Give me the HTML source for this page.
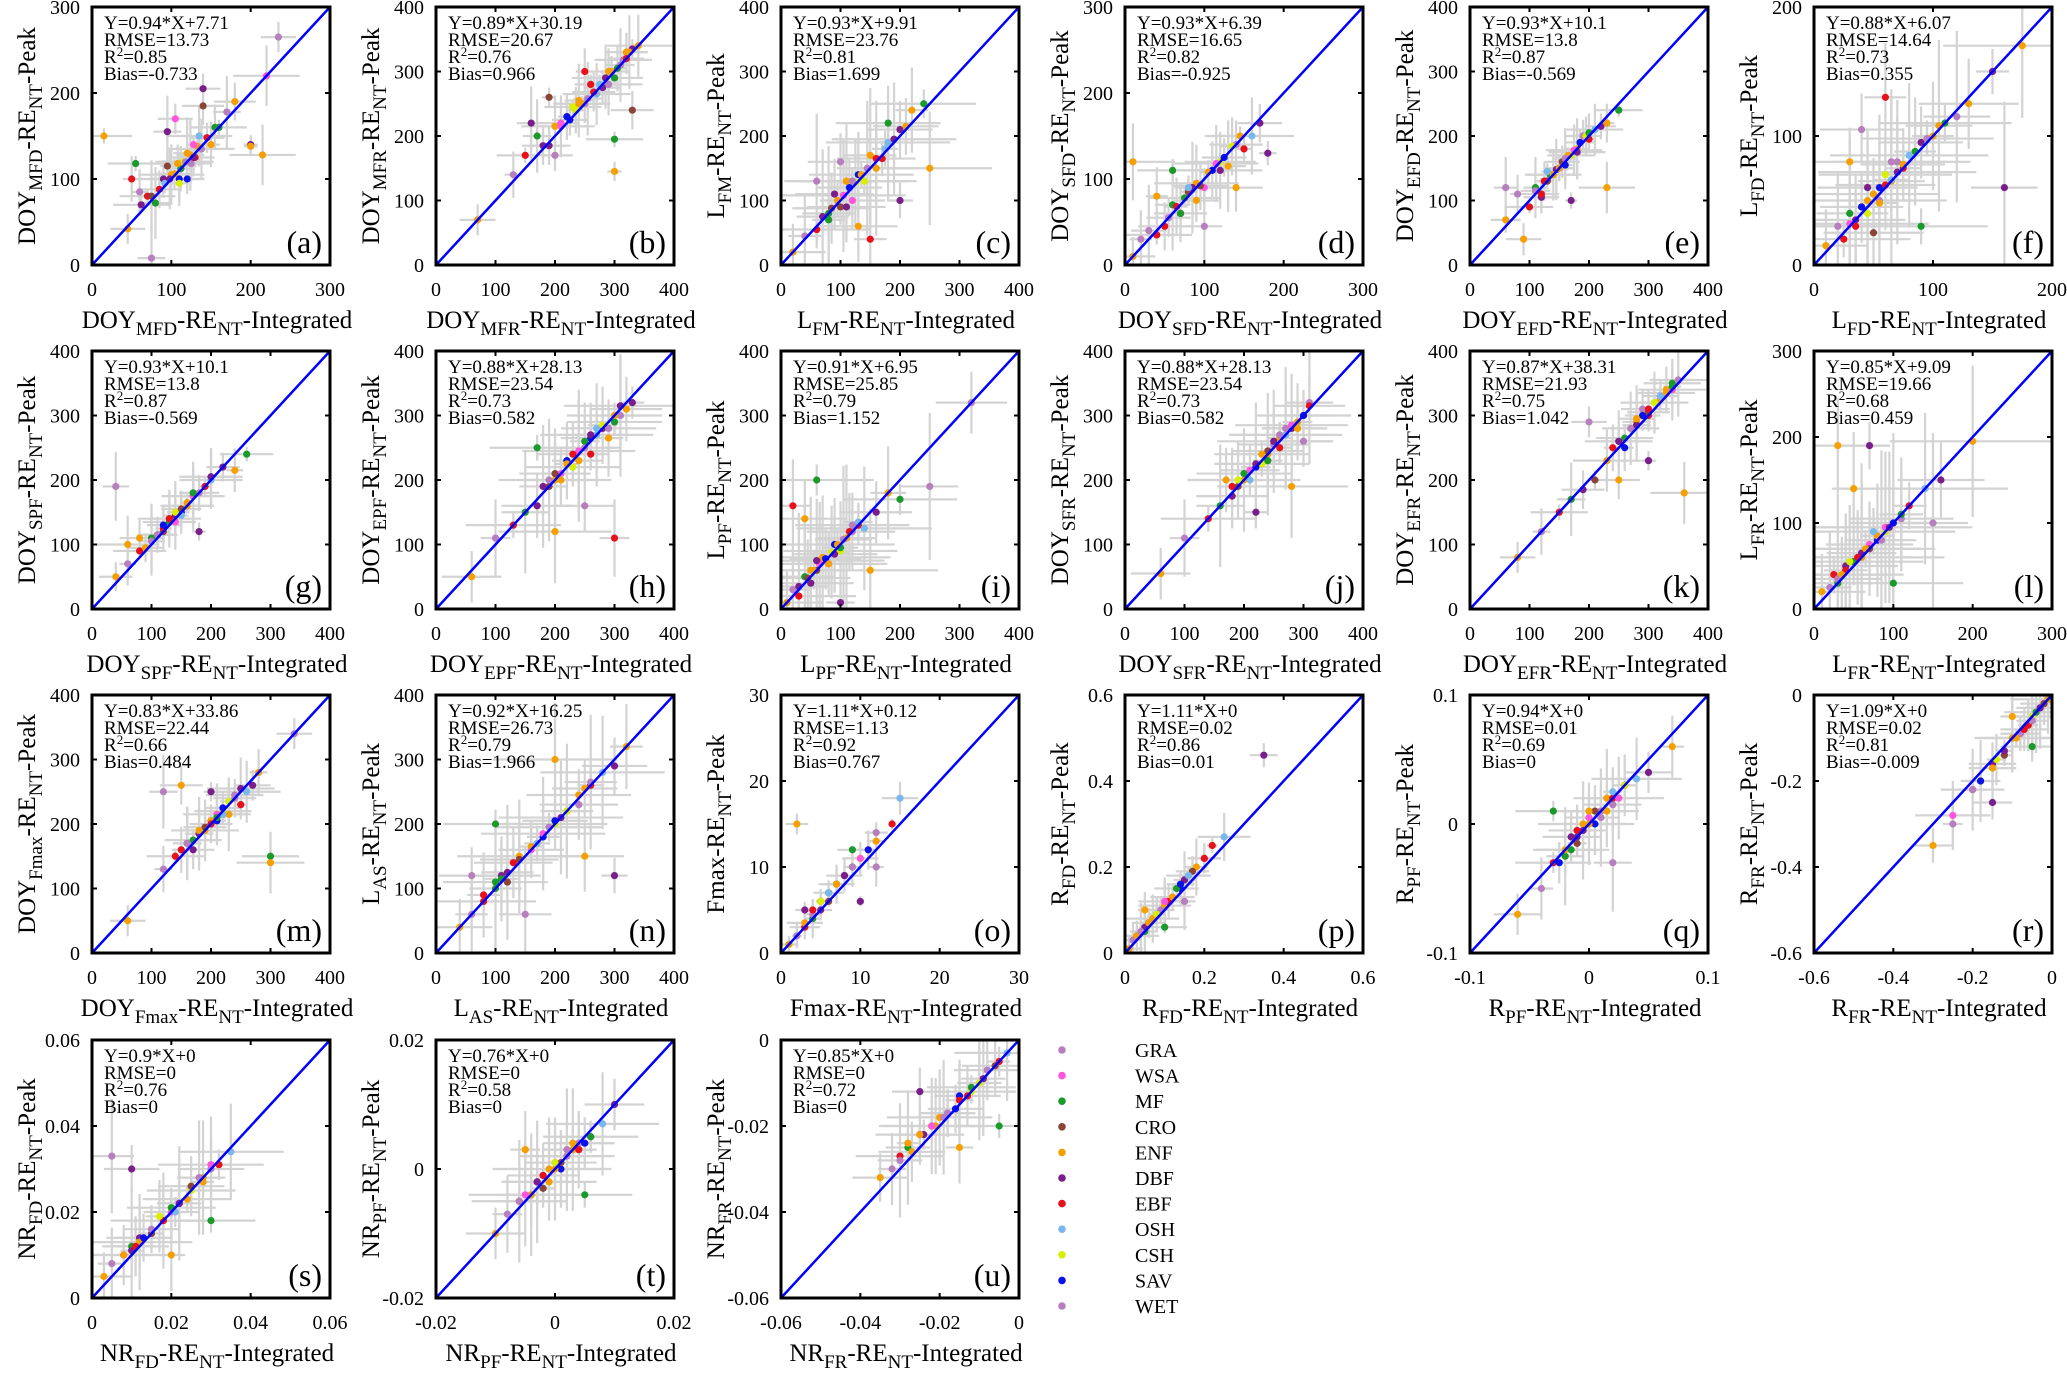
<!DOCTYPE html>
<html><head><meta charset="utf-8"><style>
html,body{margin:0;padding:0;background:#fff}
svg{display:block}
svg text{font-family:"Liberation Serif","Times New Roman",serif}
</style></head><body>
<svg id="fig" width="2067" height="1375" viewBox="0 0 2067 1375" xmlns="http://www.w3.org/2000/svg" font-family="Liberation Serif, serif"></svg>
<script>
const panelLetters=["a","b","c","d","e","f","g","h","i","j","k","l","m","n","o","p","q","r","s","t","u"];
const panelMin=[0,0,0,0,0,0, 0,0,0,0,0,0, 0,0,0,0,-0.1,-0.6, 0,-0.02,-0.06];
const panelMax=[300,400,400,300,400,200, 400,400,400,400,400,300, 400,400,30,0.6,0.1,0, 0.06,0.02,0];
const panelTicks=[[0,100,200,300],[0,100,200,300,400],[0,100,200,300,400],[0,100,200,300],[0,100,200,300,400],[0,100,200],
[0,100,200,300,400],[0,100,200,300,400],[0,100,200,300,400],[0,100,200,300,400],[0,100,200,300,400],[0,100,200,300],
[0,100,200,300,400],[0,100,200,300,400],[0,10,20,30],[0,0.2,0.4,0.6],[-0.1,0,0.1],[-0.6,-0.4,-0.2,0],
[0,0.02,0.04,0.06],[-0.02,0,0.02],[-0.06,-0.04,-0.02,0]];
const panelVar=[["DOY","MFD"],["DOY","MFR"],["L","FM"],["DOY","SFD"],["DOY","EFD"],["L","FD"],
["DOY","SPF"],["DOY","EPF"],["L","PF"],["DOY","SFR"],["DOY","EFR"],["L","FR"],
["DOY","Fmax"],["L","AS"],["Fmax",""],["R","FD"],["R","PF"],["R","FR"],["NR","FD"],["NR","PF"],["NR","FR"]];
const statEq=["0.94*X+7.71","0.89*X+30.19","0.93*X+9.91","0.93*X+6.39","0.93*X+10.1","0.88*X+6.07","0.93*X+10.1","0.88*X+28.13","0.91*X+6.95","0.88*X+28.13","0.87*X+38.31","0.85*X+9.09","0.83*X+33.86","0.92*X+16.25","1.11*X+0.12","1.11*X+0","0.94*X+0","1.09*X+0","0.9*X+0","0.76*X+0","0.85*X+0"];
const statRmse=["13.73","20.67","23.76","16.65","13.8","14.64","13.8","23.54","25.85","23.54","21.93","19.66","22.44","26.73","1.13","0.02","0.01","0.02","0","0","0"];
const statR2=["0.85","0.76","0.81","0.82","0.87","0.73","0.87","0.73","0.79","0.73","0.75","0.68","0.66","0.79","0.92","0.86","0.69","0.81","0.76","0.58","0.72"];
const statBias=["-0.733","0.966","1.699","-0.925","-0.569","0.355","-0.569","0.582","1.152","0.582","1.042","0.459","0.484","1.966","0.767","0.01","0","-0.009","0","0","0"];
const errSize=[22,30,55,28,25,35,28,50,60,50,30,55,30,55,1.2,0.035,0.02,0.05,0.007,0.005,0.007];
const ptsX=[
[45,60,70,80,90,95,100,105,110,115,120,125,130,135,140,150,160,170,180,200,215,235,50,55,95,140,200,220,120,110,15,75],
[70,130,150,170,180,190,200,210,220,230,240,250,260,270,280,290,300,310,320,330,340,200,250,300,160,330,300],
[20,40,60,80,90,100,110,120,130,140,150,160,170,180,200,220,240,60,130,200,250,100,150,180],
[10,20,40,60,70,80,90,100,110,120,130,140,150,160,170,40,60,100,140,180,10],
[60,80,100,110,120,130,140,150,160,170,180,190,200,210,220,230,250,60,90,170,230],
[10,20,25,30,35,40,45,50,55,60,65,70,75,80,90,100,110,120,130,150,175,40,60,90,160,50,30],
[40,60,80,100,110,120,130,140,150,160,170,180,190,200,220,240,260,40,80,180,60],
[60,100,130,150,170,190,200,210,220,230,240,250,260,270,280,290,300,310,320,330,200,250,300,170],
[10,20,30,40,50,60,70,80,90,100,110,120,130,140,160,180,200,250,40,100,150,320,20,60],
[60,100,140,160,180,190,200,210,220,230,240,250,260,270,280,290,300,310,170,220,280,300],
[80,120,150,170,190,210,230,250,260,270,280,290,300,310,320,330,340,350,250,300,360,200],
[10,20,25,30,40,50,60,70,80,90,100,110,120,140,160,50,100,150,30,70,200],
[60,120,140,160,170,180,190,200,210,220,230,240,250,260,270,280,300,120,150,200,300,340],
[40,60,80,100,110,120,140,160,180,200,220,240,260,280,300,320,100,150,250,300,200,60],
[1,2,3,4,5,6,7,8,9,10,11,12,14,15,3,6,9,12,2,10],
[0.01,0.02,0.03,0.05,0.06,0.08,0.1,0.12,0.14,0.16,0.18,0.2,0.22,0.25,0.35,0.05,0.1,0.15],
[-0.06,-0.04,-0.03,-0.02,-0.015,-0.01,-0.005,0,0.005,0.01,0.015,0.02,0.03,0.04,0.05,0.07,-0.03,0.02],
[-0.3,-0.25,-0.2,-0.18,-0.15,-0.12,-0.1,-0.08,-0.06,-0.05,-0.04,-0.03,-0.02,-0.01,-0.15,-0.1,-0.05],
[0.003,0.005,0.008,0.01,0.012,0.015,0.018,0.02,0.022,0.025,0.028,0.03,0.032,0.035,0.01,0.02,0.03,0.005],
[-0.01,-0.008,-0.006,-0.004,-0.003,-0.002,-0.001,0,0.001,0.002,0.003,0.004,0.006,0.008,0.01,-0.005,0.005],
[-0.035,-0.032,-0.03,-0.028,-0.025,-0.022,-0.02,-0.018,-0.015,-0.012,-0.01,-0.008,-0.005,-0.003,-0.025,-0.015,-0.005]];
const ptsY=[
[42,85,80,72,100,115,105,170,100,120,130,118,125,150,205,140,160,178,190,140,128,265,100,118,155,185,138,220,100,95,150,8],
[70,140,170,200,185,260,215,220,230,245,255,250,280,265,275,300,290,310,330,335,340,170,300,195,220,240,145],
[20,45,55,80,110,90,130,100,140,130,170,150,165,190,210,240,250,130,60,100,150,160,40,220],
[10,30,35,70,60,85,95,90,110,120,115,140,135,150,165,80,110,45,90,130,120],
[70,110,90,120,105,130,140,150,155,170,180,200,195,210,215,220,240,120,40,100,120],
[15,30,20,40,35,45,50,55,60,70,65,80,75,85,95,100,110,115,125,150,170,105,130,30,60,25,80],
[50,70,90,110,115,120,140,135,150,160,175,180,190,200,220,215,240,190,110,120,100],
[50,110,130,150,160,190,200,210,230,220,245,250,240,270,280,265,290,300,310,320,120,160,110,250],
[10,30,20,50,40,60,80,70,100,90,110,120,130,125,150,180,170,190,140,10,60,320,160,200],
[55,110,140,160,175,190,200,215,220,225,240,255,250,270,280,290,300,320,200,150,190,260],
[80,120,150,170,185,200,230,260,250,280,290,310,300,320,330,340,350,355,200,230,180,290],
[20,25,40,30,50,55,60,75,80,90,100,105,120,140,150,140,30,100,190,190,195],
[50,130,150,170,160,185,190,200,205,220,215,240,230,250,260,280,150,250,260,250,140,340],
[40,60,80,100,120,110,150,160,180,200,220,230,260,280,290,320,200,60,150,120,300,120],
[1,2,3,4,5,6,8,9,10,11,12,14,15,18,5,7,12,10,15,6],
[0.01,0.03,0.04,0.05,0.07,0.09,0.11,0.13,0.15,0.18,0.2,0.22,0.25,0.27,0.46,0.1,0.06,0.12],
[-0.07,-0.05,-0.03,-0.025,-0.01,-0.015,0,0.005,0,0.01,0.02,0.015,0.03,0.035,0.04,0.06,0.01,-0.03],
[-0.35,-0.3,-0.22,-0.2,-0.16,-0.14,-0.1,-0.09,-0.07,-0.05,-0.04,-0.03,-0.02,-0.01,-0.25,-0.05,-0.12],
[0.005,0.008,0.01,0.012,0.014,0.015,0.018,0.02,0.022,0.025,0.028,0.03,0.031,0.034,0.03,0.01,0.018,0.033],
[-0.01,-0.007,-0.005,-0.004,-0.002,-0.003,0,0.001,0,0.002,0.003,0.004,0.005,0.007,0.01,0.003,-0.004],
[-0.032,-0.03,-0.027,-0.025,-0.022,-0.02,-0.018,-0.017,-0.013,-0.012,-0.01,-0.007,-0.005,-0.003,-0.012,-0.025,-0.02]];
// extra dense-cluster points
const densX=[
[85,92,98,104,112,118,124,128,133,138,145,155,62,75,108,128],
[210,225,235,245,255,265,275,285,295,305,315,325,190,240,290,320],
[70,85,95,105,115,125,135,145,160,175,190,210,80,120,160,110],
[55,65,75,85,95,105,115,125,135,145,30,50,80,120,90,70],
[110,125,135,145,155,165,175,185,195,140,160,120,130,180,150,200],
[30,40,45,50,55,60,65,70,75,85,95,105,45,55,65,35],
[110,120,130,140,150,160,170,120,140,160,100,130,150,200,90,170],
[180,200,220,240,260,280,300,190,230,270,310,210,250,290,240,260],
[30,45,55,65,75,85,95,105,115,130,60,80,100,120,50,90],
[180,200,220,240,260,280,300,190,230,270,310,210,250,290,240,260],
[240,260,280,300,320,340,290,310,330,270,300,320,250,280,340,350],
[30,40,50,60,70,80,90,100,45,65,85,55,75,95,35,110],
[150,170,180,190,200,210,220,230,240,160,200,220,250,180,210,240],
[80,100,120,140,160,180,200,220,240,260,130,170,210,250,110,190],
[3,4,5,6,7,8,9,10,11,5,7,9,4,6,8,12],
[0.03,0.05,0.07,0.09,0.11,0.13,0.15,0.17,0.06,0.1,0.14,0.08,0.12,0.04,0.2,0.16],
[-0.02,-0.01,0,0.01,0.02,-0.015,-0.005,0.005,0.015,0.025,-0.025,0.03,0,0.01,-0.01,0.02],
[-0.2,-0.15,-0.12,-0.1,-0.08,-0.06,-0.04,-0.03,-0.02,-0.01,-0.25,-0.18,-0.14,-0.09,-0.05,-0.07],
[0.008,0.01,0.012,0.015,0.018,0.02,0.022,0.025,0.028,0.03,0.013,0.017,0.024,0.027,0.011,0.021],
[-0.006,-0.004,-0.002,0,0.002,0.004,0.006,-0.003,0.001,0.003,-0.005,0.005,0,-0.001,0.002,-0.002],
[-0.03,-0.027,-0.024,-0.021,-0.018,-0.015,-0.012,-0.009,-0.006,-0.028,-0.022,-0.016,-0.01,-0.025,-0.019,-0.013]];
const densY=[
[88,95,100,106,112,120,128,125,138,135,148,160,70,80,118,140],
[215,225,240,250,258,268,280,290,300,305,318,330,185,250,280,320],
[75,88,100,108,120,128,140,150,165,180,195,215,70,130,150,90],
[55,68,78,90,92,108,118,125,138,150,40,45,90,110,75,60],
[115,130,140,148,160,170,178,190,200,140,165,110,145,175,150,205],
[32,45,40,55,50,62,66,72,78,88,98,108,60,48,80,30],
[115,125,135,145,155,165,175,130,150,160,105,140,145,205,95,180],
[190,210,225,245,265,285,300,200,240,280,315,200,260,280,230,270],
[35,48,60,70,78,88,100,108,120,135,75,70,95,130,60,85],
[190,210,225,245,265,285,300,200,240,280,315,200,260,280,230,270],
[250,265,285,305,325,340,300,320,335,280,310,330,260,295,345,355],
[35,45,55,65,70,85,95,100,55,70,80,60,90,95,40,110],
[160,175,185,195,205,215,225,235,245,170,200,215,255,190,210,245],
[90,110,125,145,165,185,205,220,245,265,140,170,210,255,115,195],
[3.5,4.5,6,7,8,9,10,11,12,6,8,10,5,7,9,13],
[0.04,0.06,0.08,0.1,0.12,0.15,0.17,0.19,0.07,0.12,0.16,0.09,0.13,0.05,0.22,0.18],
[-0.02,-0.01,0,0.01,0.02,-0.02,-0.005,0.01,0.01,0.02,-0.03,0.03,0.01,0.005,-0.005,0.025],
[-0.22,-0.17,-0.13,-0.1,-0.09,-0.07,-0.04,-0.03,-0.02,-0.01,-0.28,-0.2,-0.15,-0.1,-0.06,-0.08],
[0.01,0.011,0.013,0.016,0.018,0.021,0.022,0.026,0.027,0.031,0.014,0.019,0.023,0.028,0.012,0.02],
[-0.005,-0.004,-0.001,0,0.002,0.003,0.005,-0.002,0.001,0.004,-0.004,0.004,0.001,-0.002,0.003,-0.001],
[-0.028,-0.026,-0.022,-0.02,-0.017,-0.014,-0.011,-0.009,-0.006,-0.024,-0.02,-0.016,-0.01,-0.022,-0.018,-0.013]];
const classNames=["GRA","WSA","MF","CRO","ENF","DBF","EBF","OSH","CSH","SAV","WET"];
const classColors=["#b87fbf","#ff55dd","#1a9a2a","#8b4538","#f5a000","#7a1e8c","#e8101a","#79b7ec","#d6f000","#0a12ea","#b87fbf"];
const classSeq=[4,0,6,2,5,3,4,1,9,8,4,10,6,7,5,4,2,0,4,5];

const NS="http://www.w3.org/2000/svg";
const svg=document.getElementById("fig");
function mk(tag,attrs,parent){const e=document.createElementNS(NS,tag);for(const k in attrs)e.setAttribute(k,attrs[k]);if(tag==="text")e.setAttribute("font-family","Liberation Serif, serif");(parent||svg).appendChild(e);return e;}
const colLeft=[92,436,781,1125,1470,1814], rowTop=[7,351,695,1040], W=238, H=258;
function fmt(v){return String(+v.toFixed(4));}
function labelText(g,parts,attrs,bigSize,subSize){
  const t=mk("text",attrs,g);
  parts.forEach((p,i)=>{ if(p==="")return;
    const sub=i%2===1;
    const ts=mk("tspan",{"font-size":sub?subSize:bigSize},t);
    if(sub){ts.setAttribute("dy","7");}
    else if(i>0 && parts[i-1]!==""){ts.setAttribute("dy","-7");}
    ts.textContent=p;});
  return t;
}
panelLetters.forEach((L,p)=>{
  const x0=colLeft[p%6], y0=rowTop[Math.floor(p/6)];
  const mn=panelMin[p], mx=panelMax[p];
  const sx=v=>x0+(v-mn)/(mx-mn)*W, sy=v=>y0+H-(v-mn)/(mx-mn)*H;
  const g=mk("g",{});
  
  
  const clipId="clip"+L;
  const cp=mk("clipPath",{id:clipId},g); mk("rect",{x:x0,y:y0,width:W,height:H},cp);
  const plot=mk("g",{"clip-path":"url(#"+clipId+")"},g);
  
  
  const xs=ptsX[p].concat(densX[p]), ys=ptsY[p].concat(densY[p]), e=errSize[p], mult=[1,0.5,1.6,0.8,1.2,0.4,1.9];
  xs.forEach((xv,i)=>{
    const m=mult[i%mult.length], m2=mult[(i+3)%mult.length];
    const eb=mk("path",{d:`M${sx(xv-e*m)},${sy(ys[i])}H${sx(xv+e*m)}M${sx(xv)},${sy(ys[i]-e*m2)}V${sy(ys[i]+e*m2)}`,stroke:"#d3d3d3","stroke-width":2.2,fill:"none"},plot);
    
    
  });
  xs.forEach((xv,i)=>{
    const c=mk("circle",{cx:sx(xv),cy:sy(ys[i]),r:3.6,fill:classColors[classSeq[i%classSeq.length]]},plot);
    
    
  });
  const ln=mk("line",{x1:sx(mn),y1:sy(mn),x2:sx(mx),y2:sy(mx),stroke:"#0000ff","stroke-width":2.5},plot);
  
  
  const box=mk("rect",{x:x0,y:y0,width:W,height:H,fill:"none",stroke:"#000","stroke-width":3},g);
  
  
  panelTicks[p].forEach(t=>{
    mk("path",{d:`M${sx(t)},${y0+H}v-5M${sx(t)},${y0}v5M${x0},${sy(t)}h5M${x0+W},${sy(t)}h-5`,stroke:"#000","stroke-width":2},g);
    const xt=mk("text",{x:sx(t),y:y0+H+31,"font-size":20,"text-anchor":"middle"},g); xt.textContent=fmt(t);
    
    
    const yt=mk("text",{x:x0-12,y:sy(t)+7,"font-size":20,"text-anchor":"end"},g); yt.textContent=fmt(t);
    
    
  });
  const st=mk("text",{x:x0+12,y:y0+22,"font-size":19},g);
  
  
  const lines=["Y="+statEq[p],"RMSE="+statRmse[p],"R2="+statR2[p],"Bias="+statBias[p]];
  lines.forEach((s,i)=>{const ts=mk("tspan",{x:x0+12,y:y0+22+i*17},st);
    if(i===2){ts.textContent="R";const sp=mk("tspan",{"font-size":13,dy:"-7"},ts);sp.textContent="2";const r=mk("tspan",{dy:"7"},ts);r.textContent="="+statR2[p];}
    else ts.textContent=s;});
  const lt=mk("text",{x:x0+W-8,y:y0+H-12,"font-size":32,"text-anchor":"end"},g); lt.textContent="("+L+")";
  
  
  const v=panelVar[p];
  const isF=v[1]==="";
  const xparts=isF?["Fmax-RE","NT","-Integrated"]:[v[0],v[1],"-RE","NT","-Integrated"];
  const yparts=isF?["Fmax-RE","NT","-Peak"]:[v[0],v[1],"-RE","NT","-Peak"];
  const xl=labelText(g,xparts,{x:x0+W/2+6,y:y0+H+63,"text-anchor":"middle"},25,19);
  
  
  const yl=labelText(g,yparts,{x:0,y:0,"text-anchor":"middle",transform:`translate(${x0-57},${y0+H/2}) rotate(-90)`},25,19);
  
  
});
const lg=mk("g",{});


classNames.forEach((n,i)=>{
  const y=1050+i*25.6;
  const c=mk("circle",{cx:1062,cy:y,r:3.8,fill:classColors[i]},lg);
  
  
  const t=mk("text",{x:1135,y:y+7,"font-size":20},lg); t.textContent=n;
  
  
});
</script>
</body></html>
